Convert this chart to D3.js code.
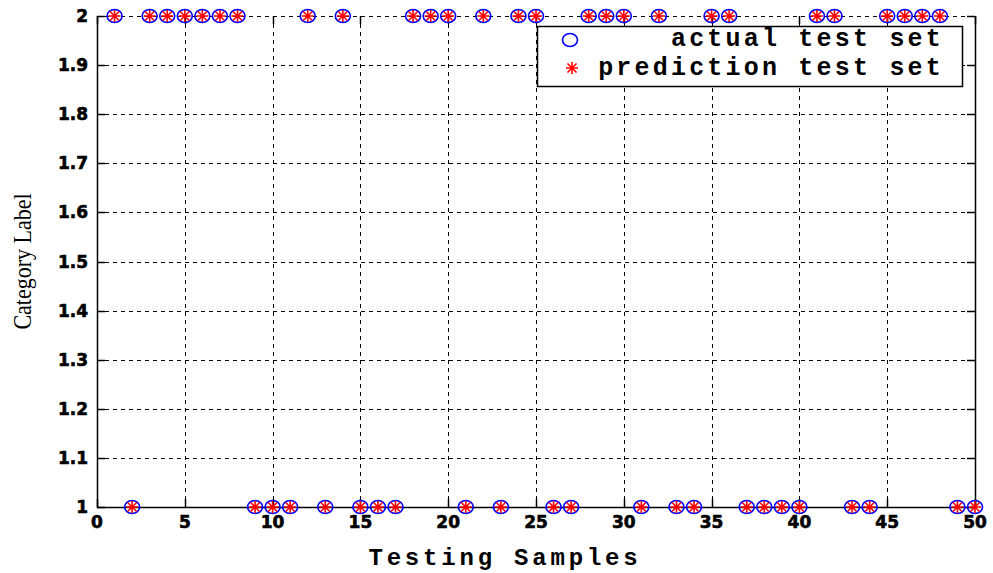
<!DOCTYPE html>
<html>
<head>
<meta charset="utf-8">
<script src="https://cdn.jsdelivr.net/npm/d3@7"></script>
<style>
  body { margin: 0; background: #fff; }
  svg { display: block; }
</style>
</head>
<body>
<div id="chart"></div>
<script>
// sample index 1..50 and the class of each sample
const samples = d3.range(1, 51);
const actualLabels = [2,1,2,2,2,2,2,2,1,1, 1,2,1,2,1,1,1,2,2,2, 1,2,1,2,2,1,1,2,2,2, 1,2,1,1,2,2,1,1,1,1, 2,2,1,1,2,2,2,2,1,1];
const predictedLabels = [2,1,2,2,2,2,2,2,1,1, 1,2,1,2,1,1,1,2,2,2, 1,2,1,2,2,1,1,2,2,2, 1,2,1,1,2,2,1,1,1,1, 2,2,1,1,2,2,2,2,1,1];
const xTicks = [0, 5, 10, 15, 20, 25, 30, 35, 40, 45, 50];
const yTicks = [1, 1.1, 1.2, 1.3, 1.4, 1.5, 1.6, 1.7, 1.8, 1.9, 2];
const legendLabels = ["actual test set", "prediction test set"];

const width = 993, height = 573;
const margin = {top: 16, right: 18, bottom: 66, left: 97};

const svg = d3.select("#chart").append("svg")
    .attr("width", width)
    .attr("height", height);

const x = d3.scaleLinear().domain([0, 50]).range([margin.left, width - margin.right]);
const y = d3.scaleLinear().domain([1, 2]).range([height - margin.bottom, margin.top]);

const x0 = x.range()[0], x1 = x.range()[1];
const y0 = y.range()[0], y1 = y.range()[1];

// grid
const grid = svg.append("g").attr("stroke", "#000").attr("stroke-width", 1).attr("stroke-dasharray", "4,4");
grid.selectAll(".gx").data(xTicks.slice(1, -1)).enter().append("line")
    .attr("x1", d => Math.round(x(d)) + 0.5).attr("x2", d => Math.round(x(d)) + 0.5)
    .attr("y1", y1).attr("y2", y0);
grid.selectAll(".gy").data(yTicks.slice(1, -1)).enter().append("line")
    .attr("x1", x0).attr("x2", x1)
    .attr("y1", d => Math.round(y(d)) + 0.5).attr("y2", d => Math.round(y(d)) + 0.5);
// top edge dashed (data sits on it)
grid.append("line").attr("x1", x0).attr("x2", x1).attr("y1", y1 + 0.5).attr("y2", y1 + 0.5);

// box: left, bottom, right solid
svg.append("path")
    .attr("d", `M${x0 + 0.5},${y1}V${y0 + 0.5}H${x1 + 0.5}V${y1}`)
    .attr("fill", "none").attr("stroke", "#000").attr("stroke-width", 1.5);

// ticks on four sides, pointing inward
const tk = 8;
const ticks = svg.append("g").attr("stroke", "#000").attr("stroke-width", 1.5);
xTicks.forEach(d => {
    const px = Math.round(x(d)) + 0.5;
    ticks.append("line").attr("x1", px).attr("x2", px).attr("y1", y0).attr("y2", y0 - tk);
    ticks.append("line").attr("x1", px).attr("x2", px).attr("y1", y1).attr("y2", y1 + tk);
});
yTicks.forEach(d => {
    const py = Math.round(y(d)) + 0.5;
    ticks.append("line").attr("x1", x0).attr("x2", x0 + tk).attr("y1", py).attr("y2", py);
    ticks.append("line").attr("x1", x1).attr("x2", x1 - tk).attr("y1", py).attr("y2", py);
});

// tick labels
const tickFont = "'DejaVu Sans', Verdana, sans-serif";
svg.append("g").selectAll("text").data(xTicks).enter().append("text")
    .attr("x", d => x(d)).attr("y", y0 + 21)
    .attr("text-anchor", "middle")
    .attr("font-family", tickFont).attr("font-weight", "bold").attr("font-size", 17)
    .attr("stroke", "#000").attr("stroke-width", 0.6)
    .text(d => d);
svg.append("g").selectAll("text").data(yTicks).enter().append("text")
    .attr("x", x0 - 9).attr("y", d => y(d) + 6)
    .attr("text-anchor", "end")
    .attr("font-family", tickFont).attr("font-weight", "bold").attr("font-size", 17)
    .attr("stroke", "#000").attr("stroke-width", 0.6)
    .text(d => d3.format("")(d));

// axis titles
svg.append("text")
    .attr("x", (x0 + x1) / 2 - 31).attr("y", 565)
    .attr("text-anchor", "middle")
    .attr("font-family", "'Liberation Mono', 'Courier New', monospace")
    .attr("font-weight", "bold").attr("font-size", 24)
    .attr("letter-spacing", 3.8)
    .text("Testing Samples");
svg.append("text")
    .attr("transform", `translate(31,${(y0 + y1) / 2}) rotate(-90) scale(1,1.15)`)
    .attr("text-anchor", "middle")
    .attr("font-family", "'Liberation Serif', 'Times New Roman', serif")
    .attr("font-size", 22)
    .text("Category Label");

// markers
function circleMarker(g, cx, cy) {
    g.append("ellipse").attr("cx", cx).attr("cy", cy).attr("rx", 7.5).attr("ry", 6.5)
        .attr("fill", "none").attr("stroke", "#0000ff").attr("stroke-width", 1.6);
}
function starMarker(g, cx, cy) {
    const s = 6, d = 4.5;
    g.append("path")
        .attr("d", `M${cx - s},${cy}H${cx + s}M${cx},${cy - s}V${cy + s}M${cx - d},${cy - d}L${cx + d},${cy + d}M${cx - d},${cy + d}L${cx + d},${cy - d}`)
        .attr("fill", "none").attr("stroke", "#ff0000").attr("stroke-width", 1.6);
}

const marks = svg.append("g");
samples.forEach((s, i) => circleMarker(marks, x(s), y(actualLabels[i])));
samples.forEach((s, i) => starMarker(marks, x(s), y(predictedLabels[i])));

// legend
const lg = svg.append("g");
lg.append("rect").attr("x", 537.5).attr("y", 26.5).attr("width", 425).attr("height", 60)
    .attr("fill", "#fff").attr("stroke", "#000").attr("stroke-width", 1.5);
circleMarker(lg, 570, 40);
starMarker(lg, 572, 68);
lg.selectAll("text").data(legendLabels).enter().append("text")
    .attr("x", 944).attr("y", (d, i) => 46 + i * 29)
    .attr("text-anchor", "end")
    .attr("font-family", "'Liberation Mono', 'Courier New', monospace")
    .attr("font-weight", "bold").attr("font-size", 25)
    .attr("letter-spacing", 3.2)
    .text(d => d);
</script>
</body>
</html>
